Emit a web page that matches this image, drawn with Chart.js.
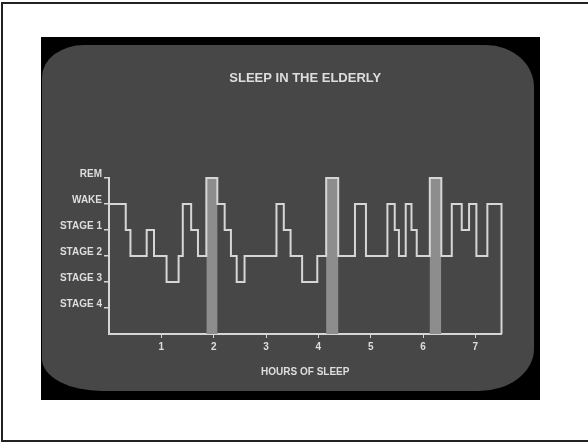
<!DOCTYPE html>
<html lang="en">
<head>
  <meta charset="UTF-8" />
  <title>Sleep in the Elderly</title>
  <script src="https://cdn.jsdelivr.net/npm/chart.js"></script>
  <style>
    body { margin: 0; background: #fff; }
    #wrap { position: relative; width: 588px; height: 444px; overflow: hidden; }
    #frame {
      position: absolute; left: 1px; top: 2px; width: 587px; height: 440px;
      box-sizing: border-box; border-left: 2px solid #222; border-top: 2px solid #222; border-bottom: 2px solid #222;
    }
    #photo { position: absolute; left: 41px; top: 37px; width: 499px; height: 363px; background: #000; }
    #screen {
      position: absolute; left: 42px; top: 45px; width: 492px; height: 346px; background: #474747;
      border-radius: 42px 48px 55px 60px / 32px 42px 42px 32px;
    }
    canvas { position: absolute; left: 0; top: 0; }
  </style>
</head>
<body>
  <div id="wrap">
    <div id="frame"></div>
    <div id="photo"></div>
    <div id="screen"></div>
    <canvas id="sleepChart" width="588" height="444"></canvas>
  </div>
  <script>
    // y tick labels, index = value on the y axis
    const stageNames = ['', 'STAGE 4', 'STAGE 3', 'STAGE 2', 'STAGE 1', 'WAKE', 'REM'];
    const xTicks = [1, 2, 3, 4, 5, 6, 7];
    const yTicks = [1, 2, 3, 4, 5, 6];

    // hypnogram: start hour of each segment and its stage
    const segStart = [0, 0.32, 0.41, 0.72, 0.86, 1.10, 1.33, 1.41, 1.57, 1.70,
                      1.86, 2.07, 2.21, 2.33, 2.44, 2.59, 3.20, 3.34, 3.47, 3.69,
                      3.98, 4.15, 4.38, 4.70, 4.91, 5.32, 5.46, 5.54, 5.67, 5.78,
                      5.88, 6.13, 6.35, 6.55, 6.74, 6.88, 7.02, 7.23];
    const segStage = ['WAKE', 'STAGE 1', 'STAGE 2', 'STAGE 1', 'STAGE 2', 'STAGE 3', 'STAGE 2', 'WAKE', 'STAGE 1', 'STAGE 2',
                      'REM', 'WAKE', 'STAGE 1', 'STAGE 2', 'STAGE 3', 'STAGE 2', 'WAKE', 'STAGE 1', 'STAGE 2', 'STAGE 3',
                      'STAGE 2', 'REM', 'STAGE 2', 'WAKE', 'STAGE 2', 'WAKE', 'STAGE 1', 'STAGE 2', 'WAKE', 'STAGE 1',
                      'STAGE 2', 'REM', 'STAGE 2', 'WAKE', 'STAGE 1', 'WAKE', 'STAGE 2', 'WAKE'];
    const endHour = 7.5;

    // shaded REM periods
    const remStart = [1.86, 4.15, 6.13];
    const remEnd = [2.07, 4.38, 6.35];

    const LINE = '#d6d6d6';
    const TEXT = '#dedede';
    const FONT = { family: "'Liberation Sans', Arial, sans-serif", weight: 'bold', size: 10 };

    const remLevel = stageNames.indexOf('REM');
    const hypno = segStart.map((h, i) => ({ x: h, y: stageNames.indexOf(segStage[i]) }));
    hypno.push({ x: endHour, y: 0 });
    const remFill = remStart.flatMap((s, i) => [{ x: s, y: remLevel }, { x: remEnd[i], y: 0 }]);

    const ctx = document.getElementById('sleepChart').getContext('2d');
    new Chart(ctx, {
      type: 'line',
      data: {
        datasets: [
          { data: hypno, stepped: 'before', borderColor: LINE, borderWidth: 2, pointRadius: 0,
            fill: false, clip: false, borderJoinStyle: 'miter' },
          { data: remFill, stepped: 'before', borderWidth: 0, borderColor: 'rgba(0,0,0,0)',
            backgroundColor: '#8d8d8d', fill: 'origin', pointRadius: 0, clip: false }
        ]
      },
      options: {
        responsive: false,
        animation: false,
        events: [],
        layout: { padding: { left: 0, right: 86.5, top: 0, bottom: 0 } },
        plugins: {
          legend: { display: false },
          tooltip: { enabled: false },
          title: {
            display: true,
            fullSize: false,
            text: 'SLEEP IN THE ELDERLY',
            color: TEXT,
            font: { family: FONT.family, weight: 'bold', size: 13 },
            padding: { top: 70.5, bottom: 91.9 }
          }
        },
        scales: {
          x: {
            type: 'linear', min: 0, max: endHour,
            afterBuildTicks: s => { s.ticks = xTicks.map(v => ({ value: v })); },
            afterFit: s => { s.height = 110; },
            grid: { drawOnChartArea: false, drawTicks: true, tickLength: 4, color: LINE, lineWidth: 1 },
            border: { color: LINE, width: 2 },
            ticks: { color: TEXT, font: FONT, padding: 3, maxRotation: 0, autoSkip: false, callback: v => String(v) },
            title: { display: true, text: 'HOURS OF SLEEP', color: TEXT, font: FONT, padding: { top: 0, bottom: 65.3 } }
          },
          y: {
            min: 0, max: remLevel,
            afterBuildTicks: s => { s.ticks = yTicks.map(v => ({ value: v })); },
            afterFit: s => { s.width = 109; },
            grid: { drawOnChartArea: false, drawTicks: true, tickLength: 5, color: LINE, lineWidth: 1.5 },
            border: { color: LINE, width: 2 },
            ticks: { color: TEXT, font: FONT, padding: 2, labelOffset: -4, autoSkip: false, callback: v => stageNames[v] }
          }
        }
      }
    });
  </script>
</body>
</html>
